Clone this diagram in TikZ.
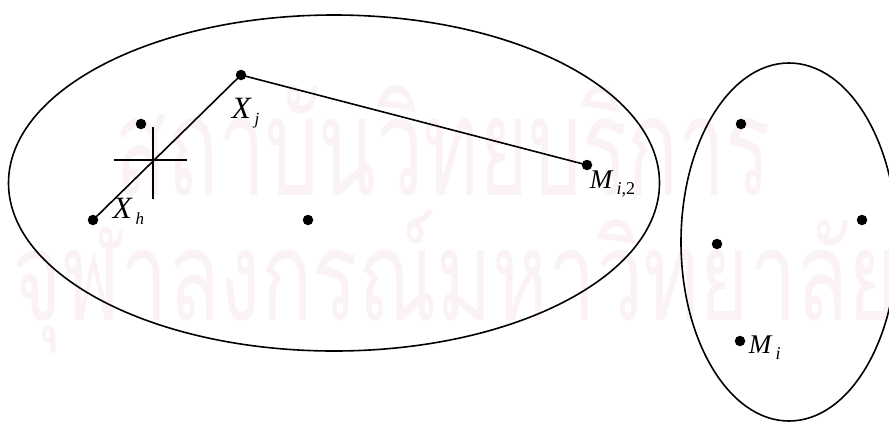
\documentclass[tikz,border=0pt]{standalone}
\usepackage{fontspec}
\setmainfont{Liberation Serif}
\newfontfamily\thaifont[Script=Thai]{Loma}
\definecolor{wmpink}{RGB}{251,242,247}

% label with a detached subscript, as the equation editor sets it
\newcommand{\sublbl}[3]{\textit{#1}\hspace{3pt}\raisebox{-6pt}{\fontsize{#3}{#3}\selectfont #2}}

\tikzset{
  pt/.style={circle, fill=black, inner sep=0pt, minimum size=10.5pt},
  lbl/.style={anchor=base west, inner sep=0pt},
  wm/.style={anchor=base west, inner sep=0pt, text=wmpink}
}

\begin{document}
\begin{tikzpicture}[x=1pt, y=-1pt, line width=1.6pt]
    \useasboundingbox (0,0) rectangle (889,421);
    \clip (0,0) rectangle (889,421);

    % watermark
    \node[wm] (wmtop) at (115,195) {\resizebox{655pt}{110pt}{\thaifont สถาบันวิทยบริการ}};
    \node[wm] (wmbot) at (12,320) {\resizebox{885pt}{110pt}{\thaifont จุฬาลงกรณ์มหาวิทยาลัย}};

    % the two clusters
    \draw (334,183) ellipse [x radius=325.5pt, y radius=168pt];
    \draw (789,242) ellipse [x radius=108pt, y radius=179pt];

    % points of the left cluster
    \node[pt] (xj) at (241,75) {};
    \node[pt] (xa) at (141,124) {};
    \node[pt] (xh) at (93,220) {};
    \node[pt] (xb) at (308,220) {};
    \node[pt] (mi2) at (587,165) {};

    % points of the right cluster
    \node[pt] (ya) at (741,124) {};
    \node[pt] (yb) at (717,244) {};
    \node[pt] (yc) at (862,220) {};
    \node[pt] (mi) at (740,341) {};

    % path and the cut
    \draw (xh.center) -- (xj.center) -- (mi2.center);
    \coordinate (cut) at (153,160);
    \draw (cut) ++(-39,0) -- ++(73,0);
    \draw (cut) ++(0,-33) -- ++(0,72);

    % labels
    \node[lbl, font=\fontsize{31}{31}\selectfont] (lxj) at (231,118) {\sublbl{X}{\textit{j}}{17}};
    \node[lbl, font=\fontsize{31}{31}\selectfont] (lxh) at (112,218) {\sublbl{X}{\textit{h}}{17}};
    \node[lbl, font=\fontsize{27}{27}\selectfont] (lmi2) at (589,188) {\sublbl{M}{\textit{i},2}{18}};
    \node[lbl, font=\fontsize{27}{27}\selectfont] (lmi) at (748,353) {\sublbl{M}{\textit{i}}{18}};
\end{tikzpicture}
\end{document}
